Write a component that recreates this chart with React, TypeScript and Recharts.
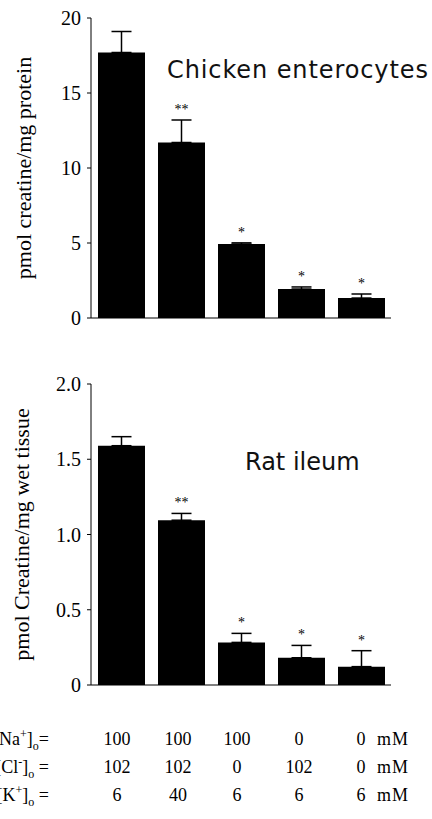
import React from 'react';
import { BarChart, Bar, XAxis, YAxis, ErrorBar, LabelList } from 'recharts';

// five bathing conditions, read left to right
const CONDITIONS = ['control', 'high K', 'Cl-free', 'Na-free', 'Na/Cl-free'];
const CHICKEN_MEAN = [17.7, 11.7, 4.93, 1.93, 1.33];
const CHICKEN_SEM = [1.4, 1.5, 0.08, 0.14, 0.27];
const RAT_MEAN = [1.59, 1.095, 0.283, 0.181, 0.122];
const RAT_SEM = [0.06, 0.045, 0.06, 0.082, 0.106];
const SIG = ['', '**', '*', '*', '*'];
const NA = ['100', '100', '100', '0', '0'];
const CL = ['102', '102', '0', '102', '0'];
const K = ['6', '40', '6', '6', '6'];
const CHICKEN_TICKS = [0, 5, 10, 15, 20];
const RAT_TICKS = [0, 0.5, 1.0, 1.5, 2.0];
const BOUNDARY_TICKS = [1, 2, 3, 4, 5];

const SERIF = '"Liberation Serif", "Times New Roman", serif';
const SANS = '"DejaVu Sans", sans-serif';

const chickenData = CONDITIONS.map((name, i) => ({ name, mean: CHICKEN_MEAN[i], err: [0, CHICKEN_SEM[i]] }));
const ratData = CONDITIONS.map((name, i) => ({ name, mean: RAT_MEAN[i], err: [0, RAT_SEM[i]] }));

const COL_SHIFT = [-4, -3, -4, -2, 0];
const ROW_Y = [56, 84, 112];

// asterisks sit just above the error bar cap
const starLabel = (sems: number[]) => (props: any) => {
  const vb = props.viewBox && props.viewBox.height != null ? props.viewBox : props;
  const { x, y, width, height } = vb;
  const { index, value } = props;
  if (!SIG[index] || !value) return null;
  const top = y - (sems[index] * height) / value;
  return (
    <text x={x + width / 2} y={top - 6} textAnchor="middle" fontFamily={SERIF} fontSize={14} fill="#000">
      {SIG[index]}
    </text>
  );
};

const TableTick = (props: any) => {
  const { x, y, index } = props;
  const cx = x + COL_SHIFT[index];
  const rows = [NA, CL, K];
  return (
    <g fontFamily={SERIF} fontSize={18} fill="#000">
      {rows.map((row, r) => (
        <text key={r} x={cx} y={y + ROW_Y[r]} textAnchor="middle">{row[index]}</text>
      ))}
      {index === CONDITIONS.length - 1 &&
        rows.map((_, r) => (
          <text key={'u' + r} x={cx + 16} y={y + ROW_Y[r]} textAnchor="start" letterSpacing={1}>mM</text>
        ))}
    </g>
  );
};

const tickStyle = { fontFamily: SERIF, fontSize: 20, fill: '#000' };

export default function App() {
  return (
    <div style={{ position: 'absolute', left: 0, top: 0, width: 432, height: 819, background: '#fff' }}>
      <div style={{ position: 'absolute', left: 0, top: 0 }}>
        <BarChart width={432} height={332} data={chickenData} margin={{ top: 18, right: 41, bottom: 10, left: 0 }} barSize={47}>
          <XAxis xAxisId="a" type="number" domain={[0, 5]} allowDataOverflow ticks={BOUNDARY_TICKS} tick={false} tickSize={4} height={4} stroke="#000" />
          <XAxis xAxisId="b" dataKey="name" hide />
          <YAxis
            width={91}
            domain={[0, 20]}
            ticks={CHICKEN_TICKS}
            tickSize={4}
            tickMargin={6}
            tick={tickStyle}
            stroke="#000"
            label={{ value: 'pmol creatine/mg protein', angle: -90, position: 'insideLeft', offset: 23, style: { textAnchor: 'middle', fontFamily: SERIF, fontSize: 22, fill: '#000' } }}
          />
          <Bar xAxisId="b" dataKey="mean" fill="#000" isAnimationActive={false}>
            <ErrorBar dataKey="err" width={10} stroke="#000" strokeWidth={1.5} direction="y" />
            <LabelList dataKey="mean" content={starLabel(CHICKEN_SEM)} />
          </Bar>
        </BarChart>
      </div>
      <div style={{ position: 'absolute', left: 0, top: 330 }}>
        <BarChart width={432} height={489} data={ratData} margin={{ top: 54, right: 41, bottom: 0, left: 0 }} barSize={47}>
          <XAxis xAxisId="a" type="number" domain={[0, 5]} allowDataOverflow ticks={BOUNDARY_TICKS} tick={false} tickSize={4} height={4} stroke="#000" />
          <XAxis xAxisId="b" dataKey="name" axisLine={false} tickLine={false} tickSize={0} tickMargin={0} height={130} tick={<TableTick />} interval={0} />
          <YAxis
            width={91}
            domain={[0, 2]}
            ticks={RAT_TICKS}
            tickFormatter={(v: number) => (v === 0 ? '0' : v.toFixed(1))}
            tickSize={4}
            tickMargin={6}
            tick={tickStyle}
            stroke="#000"
            label={{ value: 'pmol Creatine/mg wet tissue', angle: -90, position: 'insideLeft', offset: 21, style: { textAnchor: 'middle', fontFamily: SERIF, fontSize: 22, fill: '#000' } }}
          />
          <Bar xAxisId="b" dataKey="mean" fill="#000" isAnimationActive={false}>
            <ErrorBar dataKey="err" width={10} stroke="#000" strokeWidth={1.5} direction="y" />
            <LabelList dataKey="mean" content={starLabel(RAT_SEM)} />
          </Bar>
        </BarChart>
      </div>
      <svg width={432} height={819} style={{ position: 'absolute', left: 0, top: 0, pointerEvents: 'none' }}>
        <text x={167} y={78} fontFamily={SANS} fontSize={24} letterSpacing={0.9} fill="#111">Chicken enterocytes</text>
        <text x={245} y={470} fontFamily={SANS} fontSize={24} fill="#111">Rat ileum</text>
        <g fontFamily={SERIF} fontSize={18} fill="#000" textAnchor="end">
          <text x={49} y={745}>[Na<tspan dy={-7} fontSize={12}>+</tspan><tspan dy={7}>]</tspan><tspan dy={5} fontSize={12}>o</tspan><tspan dy={-5}>=</tspan></text>
          <text x={49} y={773}>[Cl<tspan dy={-7} fontSize={12}>-</tspan><tspan dy={7}>]</tspan><tspan dy={5} fontSize={12}>o</tspan><tspan dy={-5}> =</tspan></text>
          <text x={49} y={801}>[K<tspan dy={-7} fontSize={12}>+</tspan><tspan dy={7}>]</tspan><tspan dy={5} fontSize={12}>o</tspan><tspan dy={-5}> =</tspan></text>
        </g>
      </svg>
    </div>
  );
}
